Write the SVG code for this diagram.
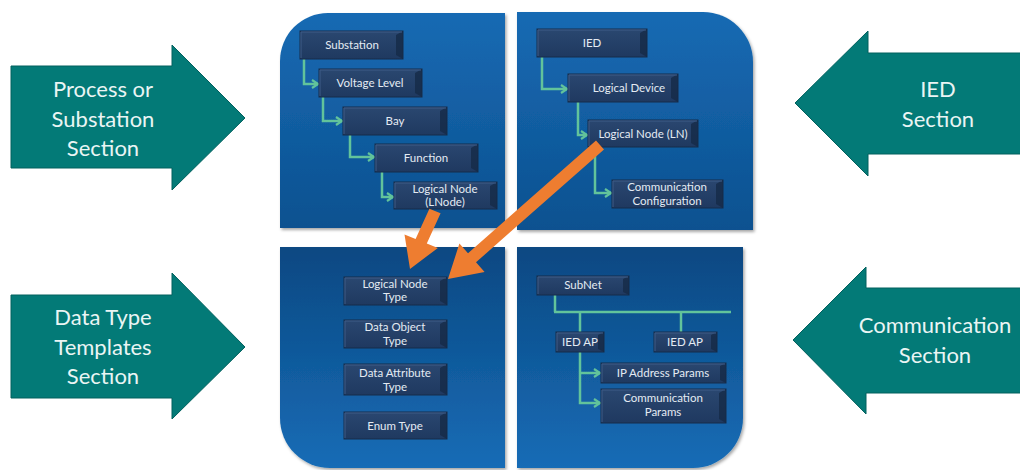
<svg xmlns="http://www.w3.org/2000/svg" width="1020" height="470" viewBox="0 0 1020 470">
  <defs>
    <style>
      .section { fill: #037A77; stroke: #02615E; stroke-width: 1; }
      .section-text { font-family: Lato, "Open Sans", sans-serif; font-size: 22px; fill: #EAF5F4; text-anchor: middle; }
      .panel-top { fill: url(#panelTop); filter: url(#shadow); }
      .panel-bottom { fill: url(#panelBottom); filter: url(#shadow); }
      .box { fill: url(#boxFill); stroke: #162C4A; stroke-width: 1; }
      .bevel { fill: #152A47; opacity: 0.8; }
      .hl { stroke: #3E5C88; stroke-width: 1; fill: none; }
      .label { font-family: Lato, "Open Sans", sans-serif; font-size: 11.5px; fill: #E4EBF3; text-anchor: middle; }
      .link { fill: none; stroke: #62C39B; stroke-width: 2.5; }
      .link-arrow { marker-end: url(#chev); }
      .pointer { fill: #EE7D30; }
    </style>
    <linearGradient id="panelTop" x1="0" y1="0" x2="0" y2="1">
      <stop offset="0" stop-color="#176AB3"/>
      <stop offset="1" stop-color="#0C5190"/>
    </linearGradient>
    <linearGradient id="panelBottom" x1="0" y1="0" x2="0" y2="1">
      <stop offset="0" stop-color="#0A4882"/>
      <stop offset="1" stop-color="#176CB6"/>
    </linearGradient>
    <linearGradient id="boxFill" x1="0" y1="0" x2="0" y2="1">
      <stop offset="0" stop-color="#2A4770"/>
      <stop offset="1" stop-color="#1F3960"/>
    </linearGradient>
    <filter id="shadow" x="-5%" y="-5%" width="110%" height="110%">
      <feDropShadow dx="1.5" dy="2" stdDeviation="1.5" flood-color="#000" flood-opacity="0.35"/>
    </filter>
    <marker id="chev" viewBox="0 0 10 10" refX="8" refY="5" markerWidth="10" markerHeight="10" markerUnits="userSpaceOnUse" orient="auto">
      <path d="M2,1 L8,5 L2,9" fill="none" stroke="#62C39B" stroke-width="2.2"/>
    </marker>
  </defs>

  <!-- section arrows -->
  <g id="process-section">
    <polygon class="section" points="11,66 172,66 172,45 245,118 172,190 172,168 11,168"/>
    <text class="section-text" x="103" y="97">Process or</text>
    <text class="section-text" x="103" y="127">Substation</text>
    <text class="section-text" x="103" y="156">Section</text>
  </g>
  <g id="datatype-section">
    <polygon class="section" points="11,295 172,295 172,273 245,347 172,419 172,398 11,398"/>
    <text class="section-text" x="103" y="325">Data Type</text>
    <text class="section-text" x="103" y="355">Templates</text>
    <text class="section-text" x="103" y="384">Section</text>
  </g>
  <g id="ied-section">
    <polygon class="section" points="1021,53 868,53 868,31 795,103 868,176 868,154 1021,154"/>
    <text class="section-text" x="938" y="97">IED</text>
    <text class="section-text" x="938" y="127">Section</text>
  </g>
  <g id="comm-section">
    <polygon class="section" points="1021,288 866,288 866,267 793,340 866,414 866,393 1021,393"/>
    <text class="section-text" x="935" y="333">Communication</text>
    <text class="section-text" x="935" y="363">Section</text>
  </g>

  <!-- quadrant panels -->
  <g id="panels">
    <path class="panel-top" d="M280,61 A48,48 0 0 1 328,13 H505 V228 H280 Z"/>
    <path class="panel-top" d="M517,12 H703 A50,50 0 0 1 753,62 V230 H517 Z"/>
    <path class="panel-bottom" d="M280,247 H505 V468 H330 A50,50 0 0 1 280,418 Z"/>
    <path class="panel-bottom" d="M517,247 H743 V418 A50,50 0 0 1 693,468 H517 Z"/>
  </g>

  <!-- connectors -->
  <g id="connectors">
    <path class="link link-arrow" d="M304,59 V84 H318"/>
    <path class="link link-arrow" d="M323,97 V121 H342"/>
    <path class="link link-arrow" d="M350,135 V157 H374"/>
    <path class="link link-arrow" d="M382,172 V197 H393"/>
    <path class="link link-arrow" d="M542,57 V89 H567"/>
    <path class="link link-arrow" d="M578,102 V135 H587"/>
    <path class="link link-arrow" d="M595,147 V193 H611"/>
    <path class="link" d="M555,295 V312"/>
    <path class="link" d="M554,312 H731"/>
    <path class="link" d="M580,312 V332"/>
    <path class="link" d="M681,312 V332"/>
    <path class="link link-arrow" d="M580,352 V403 H600"/>
    <path class="link link-arrow" d="M580,373 H600"/>
  </g>

  <!-- substation hierarchy -->
  <g id="substation">
    <rect class="box" x="300" y="31" width="103" height="28"/>
    <polygon class="bevel" points="396,35 403,31 403,59 396,55"/>
    <path class="hl" d="M301,58 V32 H402"/>
    <text class="label" x="352" y="49">Substation</text>
  </g>
  <g id="voltage-level">
    <rect class="box" x="319" y="69" width="103" height="28"/>
    <polygon class="bevel" points="415,73 422,69 422,97 415,93"/>
    <path class="hl" d="M320,96 V70 H421"/>
    <text class="label" x="370" y="87">Voltage Level</text>
  </g>
  <g id="bay">
    <rect class="box" x="343" y="107" width="104" height="28"/>
    <polygon class="bevel" points="440,111 447,107 447,135 440,131"/>
    <path class="hl" d="M344,134 V108 H446"/>
    <text class="label" x="395" y="125">Bay</text>
  </g>
  <g id="function">
    <rect class="box" x="375" y="144" width="103" height="28"/>
    <polygon class="bevel" points="471,148 478,144 478,172 471,168"/>
    <path class="hl" d="M376,171 V145 H477"/>
    <text class="label" x="426" y="162">Function</text>
  </g>
  <g id="lnode">
    <rect class="box" x="394" y="182" width="103" height="27"/>
    <polygon class="bevel" points="490,186 497,182 497,209 490,205"/>
    <path class="hl" d="M395,208 V183 H496"/>
    <text class="label" x="445" y="193">Logical Node</text>
    <text class="label" x="445" y="206">(LNode)</text>
  </g>

  <!-- IED hierarchy -->
  <g id="ied">
    <rect class="box" x="537" y="29" width="110" height="28"/>
    <polygon class="bevel" points="640,33 647,29 647,57 640,53"/>
    <path class="hl" d="M538,56 V30 H646"/>
    <text class="label" x="592" y="47">IED</text>
  </g>
  <g id="logical-device">
    <rect class="box" x="568" y="74" width="110" height="28"/>
    <polygon class="bevel" points="671,78 678,74 678,102 671,98"/>
    <path class="hl" d="M569,101 V75 H677"/>
    <text class="label" x="629" y="92">Logical Device</text>
  </g>
  <g id="logical-node-ln">
    <rect class="box" x="588" y="120" width="110" height="27"/>
    <polygon class="bevel" points="691,124 698,120 698,147 691,143"/>
    <path class="hl" d="M589,146 V121 H697"/>
    <text class="label" x="643" y="138">Logical Node (LN)</text>
  </g>
  <g id="comm-config">
    <rect class="box" x="612" y="180" width="111" height="28"/>
    <polygon class="bevel" points="716,184 723,180 723,208 716,204"/>
    <path class="hl" d="M613,207 V181 H722"/>
    <text class="label" x="667" y="191">Communication</text>
    <text class="label" x="667" y="205">Configuration</text>
  </g>

  <!-- data type templates -->
  <g id="ln-type">
    <rect class="box" x="344" y="277" width="103" height="28"/>
    <polygon class="bevel" points="440,281 447,277 447,305 440,301"/>
    <path class="hl" d="M345,304 V278 H446"/>
    <text class="label" x="395" y="288">Logical Node</text>
    <text class="label" x="395" y="301">Type</text>
  </g>
  <g id="do-type">
    <rect class="box" x="344" y="320" width="103" height="28"/>
    <polygon class="bevel" points="440,324 447,320 447,348 440,344"/>
    <path class="hl" d="M345,347 V321 H446"/>
    <text class="label" x="395" y="331">Data Object</text>
    <text class="label" x="395" y="345">Type</text>
  </g>
  <g id="da-type">
    <rect class="box" x="344" y="364" width="103" height="31"/>
    <polygon class="bevel" points="440,368 447,364 447,395 440,391"/>
    <path class="hl" d="M345,394 V365 H446"/>
    <text class="label" x="395" y="377">Data Attribute</text>
    <text class="label" x="395" y="391">Type</text>
  </g>
  <g id="enum-type">
    <rect class="box" x="344" y="412" width="103" height="27"/>
    <polygon class="bevel" points="440,416 447,412 447,439 440,435"/>
    <path class="hl" d="M345,438 V413 H446"/>
    <text class="label" x="395" y="430">Enum Type</text>
  </g>

  <!-- communication -->
  <g id="subnet">
    <rect class="box" x="537" y="276" width="92" height="19"/>
    <polygon class="bevel" points="623,279 629,276 629,295 623,292"/>
    <path class="hl" d="M538,294 V277 H628"/>
    <text class="label" x="583" y="289">SubNet</text>
  </g>
  <g id="ied-ap-1">
    <rect class="box" x="556" y="332" width="48" height="20"/>
    <polygon class="bevel" points="598,335 604,332 604,352 598,349"/>
    <path class="hl" d="M557,351 V333 H603"/>
    <text class="label" x="580" y="346">IED AP</text>
  </g>
  <g id="ied-ap-2">
    <rect class="box" x="654" y="332" width="63" height="20"/>
    <polygon class="bevel" points="711,335 717,332 717,352 711,349"/>
    <path class="hl" d="M655,351 V333 H716"/>
    <text class="label" x="685" y="346">IED AP</text>
  </g>
  <g id="ip-params">
    <rect class="box" x="601" y="363" width="125" height="20"/>
    <polygon class="bevel" points="720,366 726,363 726,383 720,380"/>
    <path class="hl" d="M602,382 V364 H725"/>
    <text class="label" x="663" y="377">IP Address Params</text>
  </g>
  <g id="comm-params">
    <rect class="box" x="601" y="389" width="125" height="34"/>
    <polygon class="bevel" points="719,393 726,389 726,423 719,419"/>
    <path class="hl" d="M602,422 V390 H725"/>
    <text class="label" x="663" y="402">Communication</text>
    <text class="label" x="663" y="416">Params</text>
  </g>

  <!-- references into the type templates -->
  <g id="pointers">
    <polygon class="pointer" points="440.6,213.2 426.8,243.4 437.9,247.9 410,269 404.5,234.5 415.6,239 429.4,208.8"/>
    <polygon class="pointer" points="604,149.5 476,262.3 484.6,272 448,279 459.4,243.6 468,253.3 596,140.5"/>
  </g>
</svg>
